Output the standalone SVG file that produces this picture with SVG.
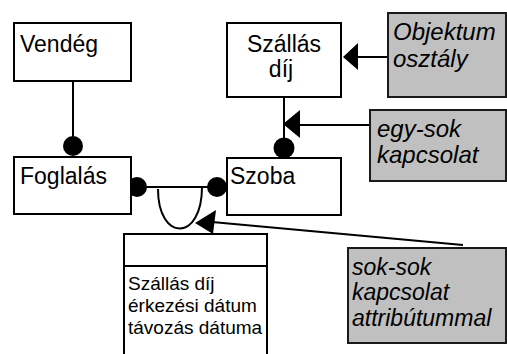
<svg xmlns="http://www.w3.org/2000/svg" width="507" height="354" viewBox="0 0 507 354">
  <style>
    .box { fill: #ffffff; stroke: #000000; stroke-width: 2; }
    .note { fill: #c0c0c0; stroke: #1a1a1a; stroke-width: 2; }
    .lbl { font-family: "Liberation Sans", Arial, sans-serif; font-size: 23px; fill: #000000; }
    .attr { font-family: "Liberation Sans", Arial, sans-serif; font-size: 19px; fill: #000000; }
    .ital { font-family: "Liberation Sans", Arial, sans-serif; font-size: 24px; font-style: italic; fill: #000000; }
    .ital-s { font-size: 23px; }
    .wire { fill: none; stroke: #000000; stroke-width: 2; }
    .dot { fill: #000000; }
    .head { fill: #000000; }
  </style>

  <g id="connectors">
    <!-- Vendég – Foglalás -->
    <line class="wire" x1="73" y1="81" x2="73" y2="146"/>
    <circle class="dot" cx="73" cy="146" r="10"/>
    <!-- Szállás díj – Szoba -->
    <line class="wire" x1="284" y1="97" x2="284" y2="148"/>
    <circle class="dot" cx="284" cy="148" r="10.5"/>
    <!-- Foglalás – Szoba -->
    <line class="wire" x1="137" y1="187" x2="217" y2="187"/>
    <circle class="dot" cx="137" cy="187" r="10"/>
    <circle class="dot" cx="217" cy="187" r="10"/>
    <!-- association loop -->
    <path class="wire" d="M158,189 C158,242 202,242 202,187"/>
    <!-- note pointers -->
    <line class="wire" x1="356" y1="57" x2="388" y2="57"/>
    <polygon class="head" points="343,57 358,43 358,70"/>
    <line class="wire" x1="298" y1="125" x2="370" y2="125"/>
    <polygon class="head" points="283,124 300,110 300,138"/>
    <line class="wire" x1="212" y1="222" x2="463" y2="245"/>
    <polygon class="head" points="195,223 216,210 213,234"/>
  </g>

  <g id="vendeg">
    <rect class="box" x="14" y="23" width="117" height="58"/>
    <text class="lbl" x="20" y="52">Vendég</text>
  </g>

  <g id="szallas-dij">
    <rect class="box" x="227" y="23" width="114" height="74"/>
    <text class="lbl" x="284" y="52" text-anchor="middle">Szállás</text>
    <text class="lbl" x="281" y="77" text-anchor="middle">díj</text>
  </g>

  <g id="foglalas">
    <rect class="box" x="14" y="157" width="117" height="57"/>
    <text class="lbl" x="20" y="184">Foglalás</text>
  </g>

  <g id="szoba">
    <rect class="box" x="227" y="158" width="114" height="57"/>
    <text class="lbl" x="230" y="184">Szoba</text>
  </g>

  <g id="kapcsolat-attributumok">
    <rect class="box" x="124" y="234" width="143" height="130"/>
    <line class="wire" x1="124" y1="266" x2="267" y2="266"/>
    <text class="attr" x="128" y="290">Szállás díj</text>
    <text class="attr" x="128" y="312">érkezési dátum</text>
    <text class="attr" x="128" y="334">távozás dátuma</text>
  </g>

  <g id="megj-objektum">
    <rect class="note" x="388" y="13" width="118" height="84"/>
    <text class="ital" x="393" y="40">Objektum</text>
    <text class="ital" x="393" y="67">osztály</text>
  </g>

  <g id="megj-egy-sok">
    <rect class="note" x="370" y="110" width="136" height="71"/>
    <text class="ital" x="377" y="137">egy-sok</text>
    <text class="ital" x="377" y="163">kapcsolat</text>
  </g>

  <g id="megj-sok-sok">
    <rect class="note" x="348" y="248" width="158" height="95"/>
    <text class="ital ital-s" x="352" y="275">sok-sok</text>
    <text class="ital ital-s" x="352" y="300">kapcsolat</text>
    <text class="ital ital-s" x="352" y="326">attribútummal</text>
  </g>
</svg>
